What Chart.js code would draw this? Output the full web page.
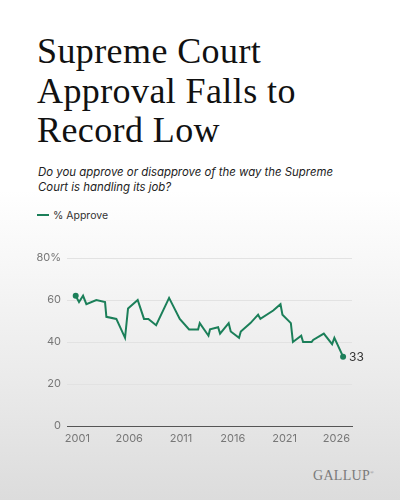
<!DOCTYPE html>
<html>
<head>
<meta charset="utf-8">
<script src="https://cdn.jsdelivr.net/npm/chart.js@4"></script>
<style>
  html, body { margin: 0; padding: 0; }
  body {
    width: 400px; height: 500px; position: relative; overflow: hidden;
    background: linear-gradient(180deg, #ffffff 0%, #ffffff 38%, #ebebeb 75%, #dcdcdc 100%);
    font-family: Inter, "Noto Sans", sans-serif;
  }
  h1 {
    position: absolute; left: 37px; top: 32px; margin: 0;
    font-family: "Liberation Serif", "DejaVu Serif", serif;
    font-weight: normal; font-size: 36px; line-height: 39.5px; color: #111;
    letter-spacing: 0.4px;
  }
  .sub {
    position: absolute; left: 38px; top: 165px; width: 320px; margin: 0;
    font-style: italic; font-size: 11.4px; line-height: 15px; color: #222;
  }
  .legend {
    position: absolute; left: 37px; top: 209px; font-size: 10.5px; color: #333;
  }
  .legend span {
    display: inline-block; width: 12px; height: 2px; background: #1b7f59;
    vertical-align: middle; margin-right: 4px; position: relative; top: -1px;
  }
  .logo {
    position: absolute; left: 313px; top: 468px;
    font-family: "Liberation Serif", "DejaVu Serif", serif; font-size: 14px;
    color: #7a7a7a; letter-spacing: 0.3px;
  }
  .logo sup { font-size: 5px; }
  #wrap { position: absolute; left: 0; top: 245px; width: 400px; height: 210px; }
</style>
</head>
<body>
<h1>Supreme Court<br>Approval Falls to<br>Record Low</h1>
<p class="sub">Do you approve or disapprove of the way the Supreme Court is handling its job?</p>
<div class="legend"><span></span>% Approve</div>
<div class="logo">GALLUP<sup>®</sup></div>
<div id="wrap"><canvas id="chart"></canvas></div>

<script>
// survey dates as decimal years
const pollDates = [
    2000.84, 2001.16, 2001.55, 2001.87, 2002.83, 2003.67, 2003.8, 2004.76,
    2005.6, 2005.89, 2006.82, 2007.43, 2007.85, 2008.6, 2009.85, 2010.88,
    2011.78, 2012.65, 2012.81, 2013.65, 2013.8, 2014.58, 2014.77, 2015.6,
    2015.8, 2016.6, 2016.77, 2017.7, 2018.44, 2018.66, 2019.9, 2020.6,
    2020.79, 2021.6, 2021.8, 2022.6, 2022.78, 2023.6, 2023.75, 2024.78,
    2025.58, 2025.8, 2026.64
];
const approve = [
    62, 59, 62, 58, 60, 59, 52, 51,
    42, 56, 60, 51, 51, 48, 61, 51,
    46, 46, 49, 43, 46, 47, 44, 49,
    45, 42, 45, 49, 53, 51, 55, 58,
    53, 49, 40, 43, 40, 40, 41, 44,
    39, 42, 33
];
const xTicks = [2001, 2006, 2011, 2016, 2021, 2026];
const yTicks = [0, 20, 40, 60, 80];

const green = '#1b7f59';

// label next to the latest reading
const endLabel = {
    id: 'endLabel',
    afterDatasetsDraw(chart) {
        const meta = chart.getDatasetMeta(0);
        const last = meta.data[meta.data.length - 1];
        const ctx = chart.ctx;
        ctx.save();
        ctx.font = '12px Inter, "Noto Sans", sans-serif';
        ctx.fillStyle = '#333';
        ctx.textBaseline = 'middle';
        ctx.fillText(String(approve[approve.length - 1]), last.x + 6, last.y + 1);
        ctx.restore();
    }
};

const ctx = document.getElementById('chart').getContext('2d');
new Chart(ctx, {
    type: 'line',
    data: {
        datasets: [{
            label: '% Approve',
            data: pollDates.map((d, i) => ({ x: d, y: approve[i] })),
            borderColor: green,
            backgroundColor: green,
            borderWidth: 2,
            tension: 0,
            pointRadius: approve.map((v, i) => (i === 0 || i === approve.length - 1) ? 3 : 0),
            pointBorderWidth: 0,
            pointHoverRadius: 0
        }]
    },
    options: {
        responsive: true,
        maintainAspectRatio: false,
        animation: false,
        layout: { padding: { left: 0, right: 48, top: 13, bottom: 5 } },
        plugins: {
            legend: { display: false },
            tooltip: { enabled: false }
        },
        scales: {
            x: {
                type: 'linear',
                min: 2000,
                max: 2027.5,
                afterBuildTicks: axis => { axis.ticks = xTicks.map(v => ({ value: v })); },
                afterFit: axis => { axis.height = 24; },
                grid: { display: false, drawTicks: false },
                border: { display: true, color: '#555', width: 1 },
                ticks: {
                    padding: 6,
                    color: '#777',
                    font: { size: 11, family: 'Inter, "Noto Sans", sans-serif' },
                    callback: v => String(v),
                    maxRotation: 0
                }
            },
            y: {
                min: 0,
                max: 80,
                afterBuildTicks: axis => { axis.ticks = yTicks.map(v => ({ value: v })); },
                afterFit: axis => { axis.width = 67; },
                grid: { color: '#e2e2e2', drawTicks: false },
                border: { display: false },
                ticks: {
                    padding: 6,
                    color: '#777',
                    font: { size: 11, family: 'Inter, "Noto Sans", sans-serif' },
                    callback: v => v === 80 ? '80%' : String(v)
                }
            }
        }
    },
    plugins: [endLabel]
});
</script>
</body>
</html>
